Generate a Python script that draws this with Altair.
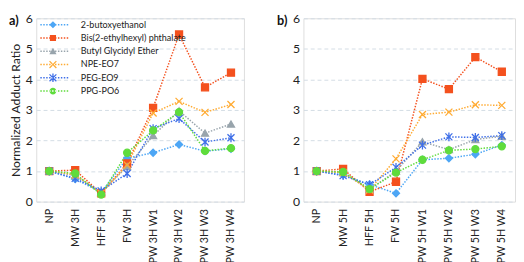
import math
import altair as alt
import pandas as pd

series = ["2-butoxyethanol", "Bis(2-ethylhexyl) phthalate", "Butyl Glycidyl Ether",
          "NPE-EO7", "PEG-EO9", "PPG-PO6"]
colors = ["#4da6f5", "#f4511e", "#98a4ac", "#ffab33", "#3f6fe8", "#5fdc3c"]

cats_a = ["NP", "MW 3H", "HFF 3H", "FW 3H", "PW 3H W1", "PW 3H W2", "PW 3H W3", "PW 3H W4"]
cats_b = ["NP", "MW 5H", "HFF 5H", "FW 5H", "PW 5H W1", "PW 5H W2", "PW 5H W3", "PW 5H W4"]

bute_a = [1.0, 0.74, 0.30, 1.42, 1.60, 1.87, 1.65, 1.73]
bis_a = [1.0, 1.03, 0.27, 1.25, 3.07, 5.47, 3.74, 4.22]
bge_a = [1.0, 0.85, 0.30, 1.15, 2.16, 2.97, 2.24, 2.54]
npe_a = [1.0, 0.88, 0.27, 1.20, 2.90, 3.28, 2.92, 3.18]
peg_a = [1.0, 0.76, 0.35, 0.92, 2.39, 2.72, 1.95, 2.09]
ppg_a = [1.0, 0.92, 0.23, 1.60, 2.33, 2.93, 1.66, 1.75]

bute_b = [1.0, 0.88, 0.56, 0.27, 1.37, 1.42, 1.55, 1.85]
bis_b = [1.0, 1.07, 0.32, 0.65, 4.02, 3.68, 4.73, 4.25]
bge_b = [1.0, 0.95, 0.40, 1.00, 1.96, 1.70, 2.03, 2.14]
npe_b = [1.0, 0.95, 0.38, 1.40, 2.85, 2.93, 3.17, 3.15]
peg_b = [1.0, 0.85, 0.55, 1.12, 1.85, 2.12, 2.10, 2.16]
ppg_b = [1.0, 0.97, 0.41, 0.95, 1.37, 1.68, 1.72, 1.81]

y_ticks = [0, 1, 2, 3, 4, 5, 6]
panel_tags = ["a)", "b)"]

# marker shapes in the plot
X_PATH = "M-1,-1L1,1M-1,1L1,-1"
AST_PATH = "M-1,-1L1,1M-1,1L1,-1M0,-1.25L0,1.25"
plot_shapes = ["diamond", "square", "triangle-up", X_PATH, AST_PATH, "circle"]


# legend symbols (fill only): dotted line made of tiny boxes + marker
def box(x0, y0, x1, y1):
    return f"M{x0:.2f},{y0:.2f}L{x1:.2f},{y0:.2f}L{x1:.2f},{y1:.2f}L{x0:.2f},{y1:.2f}Z"


def dotted(x0, x1, seg=0.43, gap=0.43, h=0.2):
    out, x = [], x0
    while x < x1:
        e = min(x + seg, x1)
        out.append(box(x, -h, e, h))
        x = e + gap
    return "".join(out)


def bar(p0, p1, t=0.19):
    dx, dy = p1[0] - p0[0], p1[1] - p0[1]
    n = math.hypot(dx, dy)
    nx, ny = -dy / n * t, dx / n * t
    pts = [(p0[0] + nx, p0[1] + ny), (p1[0] + nx, p1[1] + ny),
           (p1[0] - nx, p1[1] - ny), (p0[0] - nx, p0[1] - ny)]
    return "M" + "L".join(f"{x:.2f},{y:.2f}" for x, y in pts) + "Z"


x_mark = bar((-1, -1), (1, 1)) + bar((-1, 1), (1, -1))
leg_markers = [
    "M0,-1.05L1.05,0L0,1.05L-1.05,0Z",
    box(-0.9, -0.9, 0.9, 0.9),
    "M0,-1.05L1.05,0.85L-1.05,0.85Z",
    x_mark,
    x_mark + bar((0, -1.25), (0, 1.25)),
    "M-1,0A1,1 0 1,0 1,0A1,1 0 1,0 -1,0Z",
]
line_part = dotted(-3.7, 4.9)
leg_paths = [line_part + m for m in leg_markers]


def js_list(items):
    return "[" + ",".join("'" + s + "'" for s in items) + "]"


color_expr = f"{js_list(colors)}[indexof({js_list(series)}, datum.value)]"

FONT = "Lato"
cscale = alt.Scale(domain=series, range=colors)
sscale = alt.Scale(domain=series, range=plot_shapes)
lscale = alt.Scale(domain=series, range=leg_paths)


def panel(cats, vals, tag, tag_x, legend, ytitle, width):
    rows = []
    for s, v in zip(series, vals):
        for c, y in zip(cats, v):
            rows.append({"series": s, "cat": c, "val": y})
    df = pd.DataFrame(rows)
    axis_kw = dict(values=y_ticks, grid=True, ticks=False, domain=False,
                   labelFontSize=12.5, labelFont=FONT, labelColor="#222",
                   labelPadding=4, gridColor="#d3dce4", gridDash=[4, 3],
                   gridWidth=1)
    if ytitle:
        axis_kw.update(title=ytitle, titleFont=FONT, titleFontSize=12.5,
                       titleFontWeight="normal", titleColor="#222",
                       titlePadding=3)
    else:
        axis_kw.update(title=None)
    base = alt.Chart(df).encode(
        x=alt.X("cat:N", sort=cats, scale=alt.Scale(type="point", padding=0.5),
                axis=alt.Axis(title=None, labelAngle=270, ticks=False, domain=False,
                              labelFontSize=11, labelFont=FONT, labelColor="#222",
                              labelPadding=7, grid=False, labelLimit=300)),
        y=alt.Y("val:Q", scale=alt.Scale(domain=[0, 6], nice=False),
                axis=alt.Axis(**axis_kw)),
    )
    lines = base.mark_line(strokeDash=[1.5, 1.5], strokeWidth=1.5).encode(
        color=alt.Color("series:N", scale=cscale, legend=None),
    )
    pts = base.mark_point(filled=True, size=52, strokeWidth=1.3, opacity=1).encode(
        color=alt.Color("series:N", scale=cscale, legend=None),
        stroke=alt.Stroke("series:N", scale=cscale, legend=None),
        shape=alt.Shape("series:N", scale=sscale, legend=None),
    )
    tag_layer = alt.Chart(pd.DataFrame({"tag": [tag]})).mark_text(
        align="left", baseline="middle", font=FONT, fontSize=13,
        fontWeight="bold", color="#111",
    ).encode(text="tag:N", x=alt.value(tag_x), y=alt.value(3))
    layers = [lines, pts]
    if legend:
        leg = alt.Legend(title=None, orient="none", legendX=12.5, legendY=2,
                         labelFont=FONT, labelFontSize=9.2, labelColor="#222",
                         symbolSize=49, symbolOpacity=1, labelOffset=24,
                         rowPadding=3.6, padding=0, symbolStrokeWidth=0,
                         symbolFillColor={"expr": color_expr})
        legl = base.mark_point(filled=True, size=49, opacity=0).encode(
            color=alt.Color("series:N", scale=cscale, legend=leg),
            shape=alt.Shape("series:N", scale=lscale, legend=leg),
        )
        layers.append(legl)
    layers.append(tag_layer)
    return alt.layer(*layers).resolve_scale(shape="independent").properties(
        width=width, height=188)


pa = panel(cats_a, [bute_a, bis_a, bge_a, npe_a, peg_a, ppg_a], panel_tags[0], -28,
           True, "Normalized Adduct Ratio", 213)
pb = panel(cats_b, [bute_b, bis_b, bge_b, npe_b, peg_b, ppg_b], panel_tags[1], -27,
           False, None, 217)

chart = alt.hconcat(pa, pb, spacing=28).resolve_scale(
    color="independent", shape="independent", stroke="independent"
).properties(padding={"left": 0, "top": 0, "right": 0, "bottom": 20}).configure_view(
    stroke="#8a8a8a", strokeWidth=1.5
).configure(background="white")

chart.save("out.html", embed_options={"renderer": "svg", "actions": False})
